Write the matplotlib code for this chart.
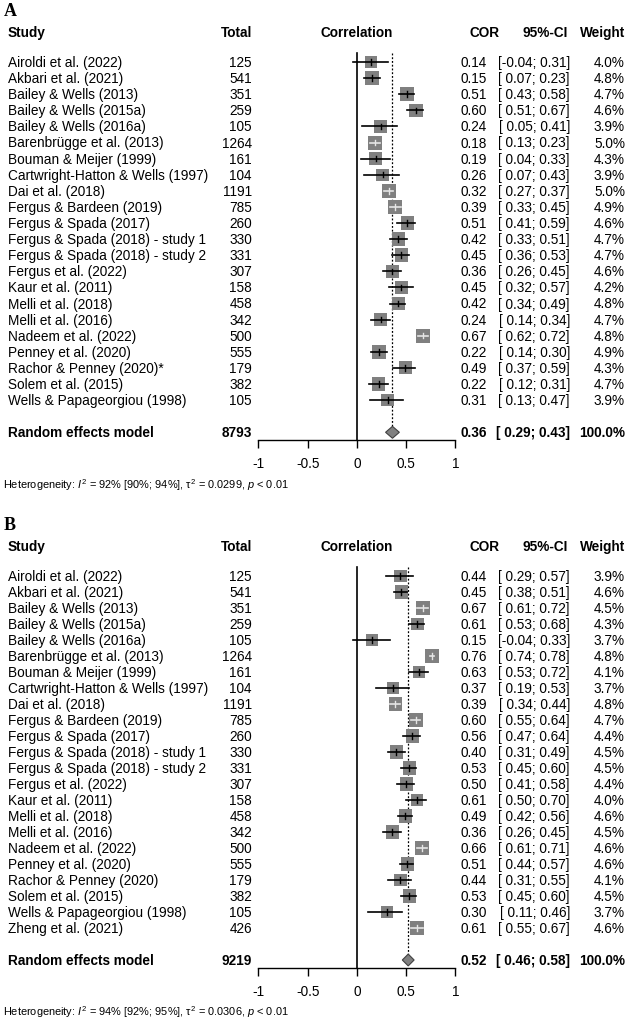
import matplotlib
matplotlib.use("Agg")
import matplotlib.pyplot as plt
import matplotlib.transforms as transforms
from matplotlib.patches import Rectangle, Polygon
import numpy as num

plt.rcParams['font.family'] = ['Liberation Sans', 'DejaVu Sans']
plt.rcParams['mathtext.fontset'] = 'custom'
plt.rcParams['mathtext.rm'] = 'Liberation Sans'
plt.rcParams['mathtext.it'] = 'Liberation Sans:italic'

# ---------------- panel A data ----------------
studiesA = ["Airoldi et al. (2022)", "Akbari et al. (2021)", "Bailey & Wells (2013)",
            "Bailey & Wells (2015a)", "Bailey & Wells (2016a)", "Barenbrügge et al. (2013)",
            "Bouman & Meijer (1999)", "Cartwright-Hatton & Wells (1997)", "Dai et al. (2018)",
            "Fergus & Bardeen (2019)", "Fergus & Spada (2017)", "Fergus & Spada (2018) - study 1",
            "Fergus & Spada (2018) - study 2", "Fergus et al. (2022)", "Kaur et al. (2011)",
            "Melli et al. (2018)", "Melli et al. (2016)", "Nadeem et al. (2022)",
            "Penney et al. (2020)", "Rachor & Penney (2020)*", "Solem et al. (2015)",
            "Wells & Papageorgiou (1998)"]
totalA = [125, 541, 351, 259, 105, 1264, 161, 104, 1191, 785, 260, 330, 331, 307, 158,
          458, 342, 500, 555, 179, 382, 105]
corA = [0.14, 0.15, 0.51, 0.60, 0.24, 0.18, 0.19, 0.26, 0.32, 0.39, 0.51, 0.42, 0.45, 0.36,
        0.45, 0.42, 0.24, 0.67, 0.22, 0.49, 0.22, 0.31]
lowA = [-0.04, 0.07, 0.43, 0.51, 0.05, 0.13, 0.04, 0.07, 0.27, 0.33, 0.41, 0.33, 0.36, 0.26,
        0.32, 0.34, 0.14, 0.62, 0.14, 0.37, 0.12, 0.13]
upA = [0.31, 0.23, 0.58, 0.67, 0.41, 0.23, 0.33, 0.43, 0.37, 0.45, 0.59, 0.51, 0.53, 0.45,
       0.57, 0.49, 0.34, 0.72, 0.30, 0.59, 0.31, 0.47]
weightA = [4.0, 4.8, 4.7, 4.6, 3.9, 5.0, 4.3, 3.9, 5.0, 4.9, 4.6, 4.7, 4.7, 4.6, 4.2, 4.8,
           4.7, 4.8, 4.9, 4.3, 4.7, 3.9]
modelTotalA = 8793
modelA = [0.36, 0.29, 0.43]
hetA = "Heterogeneity: $I^2$ = 92% [90%; 94%], τ$^2$ = 0.0299, $p$ < 0.01"

# ---------------- panel B data ----------------
studiesB = ["Airoldi et al. (2022)", "Akbari et al. (2021)", "Bailey & Wells (2013)",
            "Bailey & Wells (2015a)", "Bailey & Wells (2016a)", "Barenbrügge et al. (2013)",
            "Bouman & Meijer (1999)", "Cartwright-Hatton & Wells (1997)", "Dai et al. (2018)",
            "Fergus & Bardeen (2019)", "Fergus & Spada (2017)", "Fergus & Spada (2018) - study 1",
            "Fergus & Spada (2018) - study 2", "Fergus et al. (2022)", "Kaur et al. (2011)",
            "Melli et al. (2018)", "Melli et al. (2016)", "Nadeem et al. (2022)",
            "Penney et al. (2020)", "Rachor & Penney (2020)", "Solem et al. (2015)",
            "Wells & Papageorgiou (1998)", "Zheng et al. (2021)"]
totalB = [125, 541, 351, 259, 105, 1264, 161, 104, 1191, 785, 260, 330, 331, 307, 158,
          458, 342, 500, 555, 179, 382, 105, 426]
corB = [0.44, 0.45, 0.67, 0.61, 0.15, 0.76, 0.63, 0.37, 0.39, 0.60, 0.56, 0.40, 0.53, 0.50,
        0.61, 0.49, 0.36, 0.66, 0.51, 0.44, 0.53, 0.30, 0.61]
lowB = [0.29, 0.38, 0.61, 0.53, -0.04, 0.74, 0.53, 0.19, 0.34, 0.55, 0.47, 0.31, 0.45, 0.41,
        0.50, 0.42, 0.26, 0.61, 0.44, 0.31, 0.45, 0.11, 0.55]
upB = [0.57, 0.51, 0.72, 0.68, 0.33, 0.78, 0.72, 0.53, 0.44, 0.64, 0.64, 0.49, 0.60, 0.58,
       0.70, 0.56, 0.45, 0.71, 0.57, 0.55, 0.60, 0.46, 0.67]
weightB = [3.9, 4.6, 4.5, 4.3, 3.7, 4.8, 4.1, 3.7, 4.8, 4.7, 4.4, 4.5, 4.5, 4.4, 4.0, 4.6,
           4.5, 4.6, 4.6, 4.1, 4.5, 3.7, 4.6]
modelTotalB = 9219
modelB = [0.52, 0.46, 0.58]
hetB = "Heterogeneity: $I^2$ = 94% [92%; 95%], τ$^2$ = 0.0306, $p$ < 0.01"

# ---------------- layout (pixels) ----------------
W, H = 628, 1020
unitPx = 98.5      # pixels per correlation unit
zeroPx = 357.0     # x pixel of correlation 0
fs = 9.8

xStudy, xTotal, xCor, xCi, xWeight = 8, 252, 487, 570, 625


def drawPanel(fig, label, topPx, firstRowPx, rowPx, studies, total, cor, low, up, weight,
              modelTotal, model, het):

    n = len(studies)
    axisRow = n + 1.5
    bottomPx = firstRowPx + rowPx * axisRow

    ax = fig.add_axes([0, 1 - bottomPx / H, 1, (bottomPx - topPx) / H])
    ax.set_xlim(-zeroPx / unitPx, (W - zeroPx) / unitPx)
    ax.set_ylim(axisRow, (topPx - firstRowPx) / rowPx)
    ax.patch.set_visible(False)

    for s in ["top", "left", "right"]:
        ax.spines[s].set_visible(False)
    ax.spines["bottom"].set_bounds(-1, 1)
    ax.spines["bottom"].set_linewidth(1.0)
    ax.set_yticks([])
    ax.set_xticks([-1, -0.5, 0, 0.5, 1])
    ax.set_xticklabels(["-1", "-0.5", "0", "0.5", "1"])
    ax.tick_params(axis="x", direction="out", length=6, width=1.0, pad=5.5, labelsize=fs)

    tr = transforms.blended_transform_factory(fig.transFigure, ax.transData)

    def txt(px, row, s, ha="left", bold=False, size=fs, **kw):
        ax.text(px / W, row, s, transform=tr, ha=ha, va="center", fontsize=size,
                fontweight="bold" if bold else "normal", clip_on=False, **kw)

    # panel letter and headers
    txt(4, -3.2, label, bold=True, size=13, family="Liberation Serif")
    hRow = -1.85
    txt(xStudy, hRow, "Study", bold=True)
    txt(xTotal, hRow, "Total", ha="right", bold=True)
    txt(zeroPx, hRow, "Correlation", ha="center", bold=True)
    txt(485, hRow, "COR", ha="center", bold=True)
    txt(568, hRow, "95%-CI", ha="right", bold=True)
    txt(xWeight, hRow, "Weight", ha="right", bold=True)

    # reference lines
    ax.plot([0, 0], [-0.55, axisRow], color="black", lw=1.2, zorder=1)
    est, mLow, mUp = model
    mRow = n + 1
    ax.plot([est, est], [-0.55, mRow - 0.37], color="black", lw=0.9,
            ls=(0, (1.5, 1.5)), zorder=1)

    for i in range(n):
        side = 14.0 * num.sqrt(weight[i] / 5.0)
        bw = side / unitPx
        bh = side / rowPx
        ax.add_patch(Rectangle((cor[i] - bw / 2, i - bh / 2), bw, bh,
                               facecolor="#808080", edgecolor="none", zorder=2))
        inside = low[i] >= cor[i] - bw / 2 and up[i] <= cor[i] + bw / 2
        lc = "#e6e6e6" if inside else "black"
        ax.plot([low[i], up[i]], [i, i], color=lc, lw=1.2, zorder=3)
        ax.plot([cor[i], cor[i]], [i - 0.17, i + 0.17], color=lc, lw=1.0, zorder=3)

        txt(xStudy, i, studies[i])
        txt(xTotal, i, "%d" % total[i], ha="right")
        txt(xCor, i, "%.2f" % cor[i], ha="right")
        txt(xCi, i, "[{:5.2f}; {:.2f}]".format(low[i], up[i]), ha="right")
        txt(xWeight, i, "%.1f%%" % weight[i], ha="right")

    # random effects model
    ax.add_patch(Polygon([(mLow, mRow), (est, mRow - 0.37), (mUp, mRow), (est, mRow + 0.37)],
                         closed=True, facecolor="#808080", edgecolor="#404040", lw=0.8,
                         zorder=3))
    txt(xStudy, mRow, "Random effects model", bold=True)
    txt(xTotal, mRow, "%d" % modelTotal, ha="right", bold=True)
    txt(xCor, mRow, "%.2f" % est, ha="right", bold=True)
    txt(xCi, mRow, "[{:5.2f}; {:.2f}]".format(mLow, mUp), ha="right", bold=True)
    txt(xWeight, mRow, "100.0%", ha="right", bold=True)

    txt(3, axisRow + 2.7, het, size=7.9)

    return ax


fig = plt.figure(figsize=(W / 100.0, H / 100.0), dpi=100)
fig.patch.set_facecolor("white")

drawPanel(fig, "A", 0, 63, 16.1, studiesA, totalA, corA, lowA, upA, weightA,
          modelTotalA, modelA, hetA)
drawPanel(fig, "B", 505, 577, 16.0, studiesB, totalB, corB, lowB, upB, weightB,
          modelTotalB, modelB, hetB)

fig.savefig("out.png", dpi=100, facecolor="white")
